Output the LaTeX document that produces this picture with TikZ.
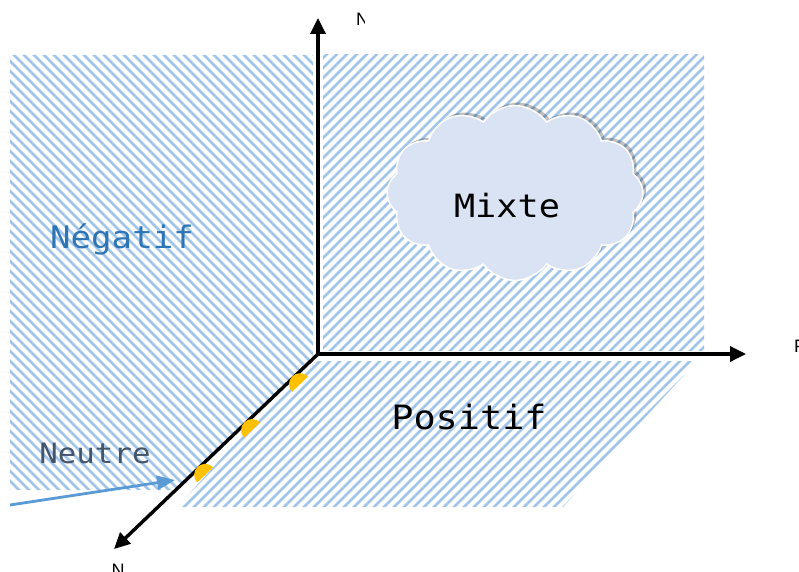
\documentclass[tikz,border=0pt]{standalone}
\usepackage{fontspec}
\usepackage{tikz}
\usetikzlibrary{positioning, calc, arrows.meta, shapes.symbols, shadows}

\newfontfamily\labelfont[FakeStretch=1.1]{DejaVu Sans Mono}
\newfontfamily\achsenfont{Liberation Sans}

\definecolor{hatchblue}{RGB}{160,197,232}
\definecolor{negblue}{RGB}{46,117,182}
\definecolor{neutgray}{RGB}{68,84,106}
\definecolor{arrowblue}{RGB}{91,155,213}
\definecolor{dotorange}{RGB}{255,192,0}
\definecolor{cloudfill}{RGB}{218,227,243}

\begin{document}
\begin{tikzpicture}[x=1pt, y=1pt,
                hatch/.style={draw=hatchblue, line width=2.6pt},
                axis/.style={draw=black, line width=3.4pt, -{Triangle[length=16pt, width=15pt]}},
                axislabel/.style={font=\achsenfont\fontsize{18}{20}\selectfont, inner sep=0pt},
                bigtext/.style={font=\labelfont\fontsize{32}{36}\selectfont, inner sep=0pt, anchor=base},
                pointer/.style={draw=arrowblue, line width=2.8pt, -{Triangle[length=18pt, width=14pt]}},
                halfdot/.style={fill=dotorange, draw=none},
                nuage/.style={cloud, cloud puffs=12, cloud puff arc=110, aspect=1.46,
                        minimum width=256pt, minimum height=175pt, fill=cloudfill,
                        draw=white, line width=1.5pt,
                        drop shadow={shadow xshift=3pt, shadow yshift=3pt, fill=black, opacity=0.25}}
            ]

            \useasboundingbox (0,0) rectangle (799,571);

            % Flaechen
            \begin{scope}
                \clip (10,516) -- (313,516) -- (313,212) -- (176,81) -- (10,81) -- cycle;
                \foreach \c in {0,10,...,1400} \draw[hatch] (\c,0) -- ++(-600,600);
            \end{scope}
            \begin{scope}
                \clip (323,516) rectangle (704,221);
                \foreach \c in {-600,-590,...,800} \draw[hatch] (\c,0) -- ++(600,600);
            \end{scope}
            \begin{scope}
                \clip (310,210) -- (697,210) -- (563,64) -- (177,64) -- cycle;
                \foreach \c in {-600,-590,...,800} \draw[hatch] (\c,0) -- ++(600,600);
            \end{scope}

            % Achsen
            \coordinate (O) at (318,217);
            \coordinate (top) at (318,553);
            \coordinate (right) at (746,217);
            \coordinate (front) at (114,22);

            \draw[axis] (O) -- (top);
            \draw[axis] (O) -- (right);
            \draw[axis] (O) -- (front);

            \begin{scope}
                \clip (300,540) rectangle (364,571);
                \node[axislabel, anchor=base west] (ntop) at (356,545) {N};
            \end{scope}
            \node[axislabel, anchor=base west] (pright) at (794,219) {P};
            \node[axislabel, anchor=base] (nfront) at (118,-5) {N};

            % Punkte auf der Achse
            \foreach \p [count=\i] in {0.12,0.355,0.585} {
                \coordinate (dot\i) at ($(O)!\p!(front) + (6.5pt,-6.8pt)$);
                \fill[halfdot] (dot\i) ++(43.7:11pt) arc[start angle=43.7, end angle=223.7, radius=11pt] -- cycle;
            }

            % Wolke
            \node[nuage] (wolke) at (515,378) {};

            % Beschriftungen
            \node[bigtext, text=black] (mixte) at (507,353) {Mixte};
            \node[bigtext, text=negblue, font=\labelfont\fontsize{31}{35}\selectfont] (negatif) at (122,323) {Négatif};
            \node[bigtext, text=black, font=\labelfont\fontsize{33.5}{38}\selectfont] (positif) at (469,142) {Positif};
            \node[bigtext, text=neutgray, font=\labelfont\fontsize{28}{32}\selectfont] (neutre) at (95,108) {Neutre};

            \coordinate (zeigerstart) at (10,66);
            \coordinate (zeigerende) at (175,91);
            \draw[pointer] (zeigerstart) -- (zeigerende);

        \end{tikzpicture}
\end{document}
